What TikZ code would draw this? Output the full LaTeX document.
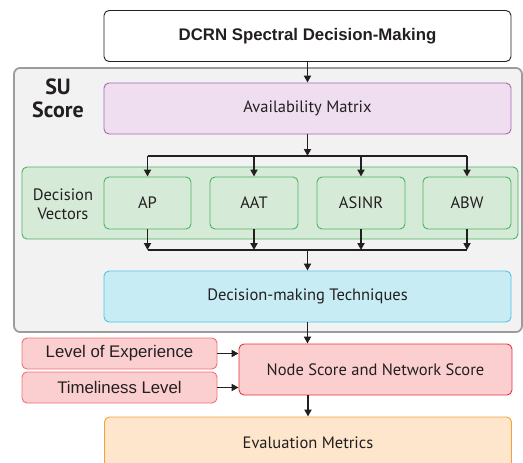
\documentclass[tikz,border=0pt]{standalone}
\usepackage{fontspec}
\setmainfont{PT Sans}
\newfontfamily\arialfont{Liberation Sans}
\usetikzlibrary{arrows.meta}
\definecolor{ink}{HTML}{231F20}
\definecolor{panelfill}{HTML}{F2F2F2}
\definecolor{paneldraw}{HTML}{9C9C9C}
\definecolor{purfill}{HTML}{EFDDF0}
\definecolor{purdraw}{HTML}{A569AE}
\definecolor{grnfill}{HTML}{D6EAD8}
\definecolor{grndraw}{HTML}{4DB361}
\definecolor{blufill}{HTML}{C8ECF4}
\definecolor{bludraw}{HTML}{4FC3E8}
\definecolor{redfill}{HTML}{FBCFD0}
\definecolor{reddraw}{HTML}{E8323C}
\definecolor{pinkdraw}{HTML}{F07078}
\definecolor{orgfill}{HTML}{FDE6CB}
\definecolor{orgdraw}{HTML}{F4A13A}
\begin{document}
\begin{tikzpicture}[x=1pt,y=-1pt,
  box/.style={draw, rounded corners=5pt, line width=0.9pt, inner sep=0pt,
    text=ink, font=\fontsize{16.5}{18}\selectfont, align=center},
  arr/.style={-{Triangle[length=7pt,width=7pt]}, line width=1.8pt, draw=ink},
  bus/.style={line width=1.8pt, draw=ink}]
\useasboundingbox (0,0) rectangle (523,463);

% SU score panel
\node[draw=paneldraw, fill=panelfill, line width=1.8pt, rounded corners=6pt,
  minimum width=508pt, minimum height=264pt, inner sep=0pt] (panel) at (268,200) {};
\node[text=ink, font=\bfseries\fontsize{22}{23}\selectfont, align=center]
  (su) at (58,98) {SU\\Score};

% top box
\node[box, draw=ink, fill=white, minimum width=407pt, minimum height=51pt,
  font=\arialfont\bfseries\fontsize{16.8}{18}\selectfont] (top) at (307.5,36) {DCRN Spectral Decision-Making};

% availability matrix
\node[box, draw=purdraw, fill=purfill, minimum width=407pt, minimum height=51pt] (avail) at (307.5,108.5) {Availability Matrix};

% decision vectors group
\node[box, draw=grndraw, fill=grnfill, minimum width=496pt, minimum height=72pt] (dv) at (270,203) {};
\node[text=ink, font=\fontsize{16.5}{19}\selectfont, align=center] (dvlabel) at (63,204) {Decision\\Vectors};
\node[box, draw=grndraw, fill=grnfill, minimum width=87pt, minimum height=52pt] (ap) at (147.5,203) {AP};
\node[box, draw=grndraw, fill=grnfill, minimum width=88pt, minimum height=52pt] (aat) at (254,203) {AAT};
\node[box, draw=grndraw, fill=grnfill, minimum width=88pt, minimum height=52pt] (asinr) at (361,203) {ASINR};
\node[box, draw=grndraw, fill=grnfill, minimum width=88pt, minimum height=52pt] (abw) at (467,203) {ABW};

% decision-making techniques
\node[box, draw=bludraw, fill=blufill, minimum width=407pt, minimum height=51pt] (dmt) at (307.5,296.5) {Decision-making Techniques};

% scores
\node[box, draw=reddraw, fill=redfill, minimum width=273pt, minimum height=51pt] (score) at (375.5,369.5) {Node Score and Network Score};
\node[box, draw=pinkdraw, fill=redfill, minimum width=195pt, minimum height=31pt,
  font=\arialfont\fontsize{16.8}{18}\selectfont] (loe) at (119.5,353.5) {Level of Experience};
\node[box, draw=pinkdraw, fill=redfill, minimum width=195pt, minimum height=31pt,
  font=\arialfont\fontsize{16.8}{18}\selectfont] (tl) at (119.5,387.5) {Timeliness Level};

% evaluation metrics
\node[box, draw=orgdraw, fill=orgfill, minimum width=407pt, minimum height=70pt] (eval) at (308,452) {};
\node[text=ink, font=\fontsize{16.5}{18}\selectfont] (evaltext) at (308,443) {Evaluation Metrics};

% connectors
\coordinate (busT) at (307.5,156);
\coordinate (busB) at (307.5,250);
\draw[arr] (top.south) -- (avail.north);
\draw[arr] (avail.south) -- (busT);
\draw[bus] (ap.north |- busT) -- (abw.north |- busT);
\foreach \n in {ap,aat,asinr,abw}{
  \draw[arr] (\n.north |- busT) -- (\n.north);
  \draw[arr] (\n.south) -- (\n.south |- busB);
}
\draw[bus] (ap.south |- busB) -- (abw.south |- busB);
\draw[arr] (busB) -- (dmt.north);
\draw[arr] (dmt.south) -- (dmt.south |- score.north);
\draw[arr] (loe.east) -- (loe.east -| score.west);
\draw[arr] (tl.east) -- (tl.east -| score.west);
\draw[arr] (score.south -| eval.north) -- (eval.north);
\end{tikzpicture}
\end{document}
